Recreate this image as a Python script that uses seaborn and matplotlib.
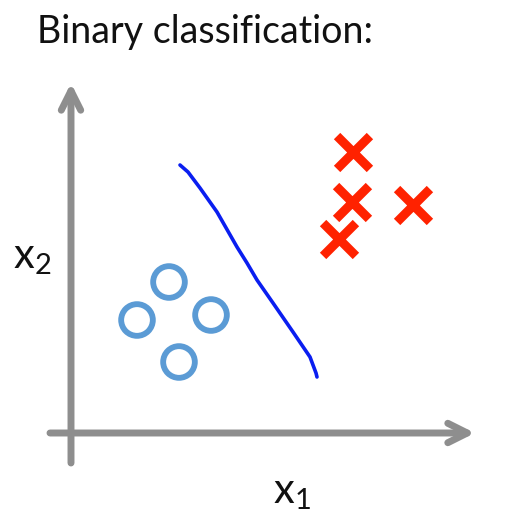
import numpy as np
import pandas as pd
import matplotlib
matplotlib.use("Agg")
import matplotlib.pyplot as plt
import seaborn as sns

# данные (координаты относительно начала осей)
circle_x1 = [98, 66, 140, 108]
circle_x2 = [151, 113, 118, 71]
cross_x1 = [282, 281, 342, 268]
cross_x2 = [281, 231, 228, 194]
boundary_x1 = [109, 117, 129, 146, 166, 176, 186, 202, 222, 239, 245, 246]
boundary_x2 = [268, 261, 245, 221, 186, 170, 153, 130, 101, 76, 60, 56]

title = "Binary classification:"

sns.set_theme(style="white")
plt.rcParams['font.family'] = ['Lato', 'DejaVu Sans']

fig = plt.figure(figsize=(5.16, 5.25), dpi=100)
ax = fig.add_axes([0, 0, 1, 1])
ax.set_xlim(-71, 445)
ax.set_ylim(-92, 433)
ax.axis("off")

grey = "#8E8E8E"
# оси со стрелками
ax.annotate("", xy=(404, 0), xytext=(-21, 0),
            arrowprops=dict(arrowstyle="->,head_length=0.7,head_width=0.35",
                            color=grey, lw=5, mutation_scale=20, shrinkA=0, shrinkB=0))
ax.annotate("", xy=(0, 350), xytext=(0, -30),
            arrowprops=dict(arrowstyle="->,head_length=0.7,head_width=0.35",
                            color=grey, lw=5, mutation_scale=20, shrinkA=0, shrinkB=0))

circles = pd.DataFrame({"x1": circle_x1, "x2": circle_x2})
crosses = pd.DataFrame({"x1": cross_x1, "x2": cross_x2})
boundary = pd.DataFrame({"x1": boundary_x1, "x2": boundary_x2})

sns.lineplot(data=boundary, x="x1", y="x2", sort=False, color="#0A1EF0", lw=2.6, ax=ax)
sns.scatterplot(data=circles, x="x1", y="x2", marker="o", s=520,
                facecolors="none", edgecolor="#5B9BD5", linewidth=4.2, ax=ax)
sns.scatterplot(data=crosses, x="x1", y="x2", marker="x", s=560,
                color="#FF2200", linewidth=6.5, ax=ax)
ax.set_xlabel("")
ax.set_ylabel("")

ax.text(-34, 390, title, fontsize=27, va="baseline", ha="left", color="#111111")
ax.text(202, -70, r"$\mathregular{x_1}$", fontsize=30, va="baseline", ha="left", color="#111111")
ax.text(-58, 165, r"$\mathregular{x_2}$", fontsize=30, va="baseline", ha="left", color="#111111")

fig.savefig("out.png", dpi=100)
